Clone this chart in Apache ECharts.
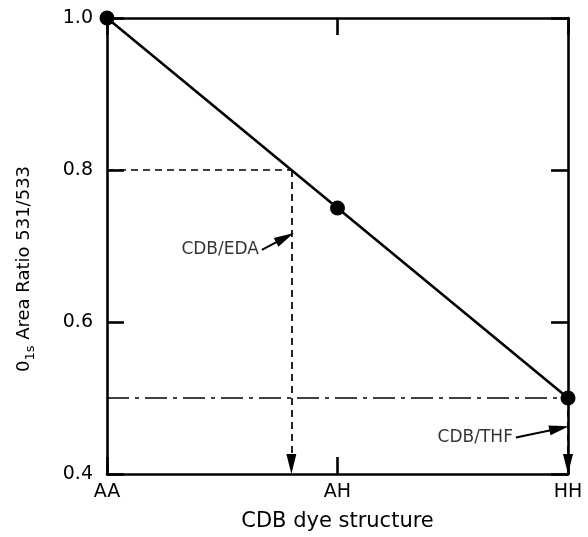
<!DOCTYPE html>
<html>
<head>
<meta charset="utf-8">
<script src="https://cdn.jsdelivr.net/npm/echarts@6/dist/echarts.min.js"></script>
<style>
  html, body { margin: 0; padding: 0; background: #fff; }
  #chart { width: 588px; height: 537px; }
</style>
</head>
<body>
<div id="chart"></div>
<script>
// Dye structures along the x axis (positions 0, 1, 2)
const structures = ['AA', 'AH', 'HH'];
// O1s area ratio 531/533 for each structure
const areaRatio = [1.0, 0.75, 0.5];
// Y-axis range and tick step
const yMin = 0.4, yMax = 1.0, yStep = 0.2;

// Solvent-treated samples
const edaRatio = 0.8;          // CDB/EDA ratio
const edaPosition = 0.8;       // where the ratio meets the calibration line
const thfRatio = 0.5;          // CDB/THF ratio
const thfPosition = 2;

// Callout arrows for the two labels: [start, end] in data units
const edaCallout = [[0.672, 0.695], [0.772, 0.711]];
const thfCallout = [[1.774, 0.448], [1.962, 0.46]];

const ink = '#000';
const font = 'DejaVu Sans';
const arrowHead = [10, 20];    // width, length in px

const chart = echarts.init(document.getElementById('chart'), null, { renderer: 'canvas' });

const boxAxis = (extra) => Object.assign({
  axisLine: { show: true, onZero: false, lineStyle: { color: ink, width: 2.6 } },
  axisTick: { show: true, inside: true, length: 17, lineStyle: { color: ink, width: 2.6 } },
  splitLine: { show: false }
}, extra);

const dashed = { color: ink, width: 1.7, type: [7, 5] };

const option = {
  animation: false,
  backgroundColor: '#fff',
  grid: { left: 107, right: 20, top: 18, bottom: 59 },
  xAxis: [
    boxAxis({
      type: 'value', min: 0, max: 2, interval: 1, position: 'bottom',
      axisLabel: {
        color: ink, fontFamily: font, fontSize: 19, margin: 9,
        formatter: (v) => structures[Math.round(v)] || ''
      },
      name: 'CDB dye structure', nameLocation: 'middle', nameGap: 37,
      nameTextStyle: { color: ink, fontFamily: font, fontSize: 21 }
    }),
    boxAxis({
      type: 'value', min: 0, max: 2, interval: 1, position: 'top',
      axisLabel: { show: false }
    })
  ],
  yAxis: [
    boxAxis({
      type: 'value', min: yMin, max: yMax, interval: yStep, position: 'left',
      axisLabel: {
        color: ink, fontFamily: font, fontSize: 19, margin: 14,
        formatter: (v) => v.toFixed(1)
      },
      name: '{m|0}{s|1s}{m| Area Ratio 531/533}', nameLocation: 'middle', nameGap: 70, nameRotate: 90,
      nameTextStyle: {
        color: ink, fontFamily: font, fontSize: 18,
        padding: [0, 0, 0, -46],
        rich: {
          m: { fontFamily: font, fontSize: 18, color: ink },
          s: { fontFamily: font, fontSize: 13, color: ink, verticalAlign: 'bottom', padding: [12, 0, 0, 0] }
        }
      }
    }),
    boxAxis({
      type: 'value', min: yMin, max: yMax, interval: yStep, position: 'right',
      axisLabel: { show: false }
    })
  ],
  series: [
    {
      // calibration line through the three reference dyes
      type: 'line',
      data: areaRatio.map((v, i) => [i, v]),
      symbol: 'circle', symbolSize: 15,
      itemStyle: { color: ink },
      lineStyle: { color: ink, width: 2.6 },
      z: 5
    },
    {
      // CDB/EDA: ratio read across to the calibration line
      type: 'line',
      data: [[0, edaRatio], [edaPosition, edaRatio]],
      symbol: 'none',
      lineStyle: dashed
    },
    {
      // CDB/THF: dash-dot at its ratio
      type: 'line',
      data: [[0, thfRatio], [thfPosition, thfRatio]],
      symbol: 'none',
      lineStyle: { color: ink, width: 1.7, type: [22, 6, 4, 6] }
    },
    {
      // dashed drops to the structure axis, and the label callouts
      type: 'line',
      data: [],
      markLine: {
        silent: true, animation: false,
        symbol: ['none', 'triangle'],
        symbolSize: arrowHead,
        data: [
          [
            { coord: [edaPosition, edaRatio], lineStyle: dashed },
            { coord: [edaPosition, yMin] }
          ],
          [
            { coord: [thfPosition, thfRatio], lineStyle: dashed },
            { coord: [thfPosition, yMin] }
          ],
          [
            { coord: edaCallout[0], symbolSize: [9, 15], lineStyle: { color: ink, width: 2, type: 'solid' } },
            { coord: edaCallout[1] }
          ],
          [
            { coord: thfCallout[0], symbolSize: [9, 15], lineStyle: { color: ink, width: 2, type: 'solid' } },
            { coord: thfCallout[1] }
          ]
        ],
        lineStyle: { color: ink, opacity: 1 },
        itemStyle: { color: ink },
        label: { show: false }
      }
    },
    {
      // callout labels, anchored at the tail of each arrow
      type: 'scatter',
      data: [
        { value: edaCallout[0], name: 'CDB/EDA' },
        { value: thfCallout[0], name: 'CDB/THF' }
      ],
      symbolSize: 0,
      label: {
        show: true, position: 'left', distance: 3,
        formatter: (p) => p.name,
        color: ink, fontFamily: font, fontSize: 17
      },
      silent: true
    }
  ]
};

chart.setOption(option);

// Pull each drop arrow back so its tip, not its centre, sits on the axis line.
const tipY = chart.convertToPixel({ yAxisIndex: 0 }, yMin);
const inset = chart.convertFromPixel({ yAxisIndex: 0 }, tipY - arrowHead[1] / 2);
const ml = option.series[3].markLine;
ml.data[0][1].coord = [edaPosition, inset];
ml.data[1][1].coord = [thfPosition, inset];
chart.setOption({ series: option.series });
</script>
</body>
</html>
